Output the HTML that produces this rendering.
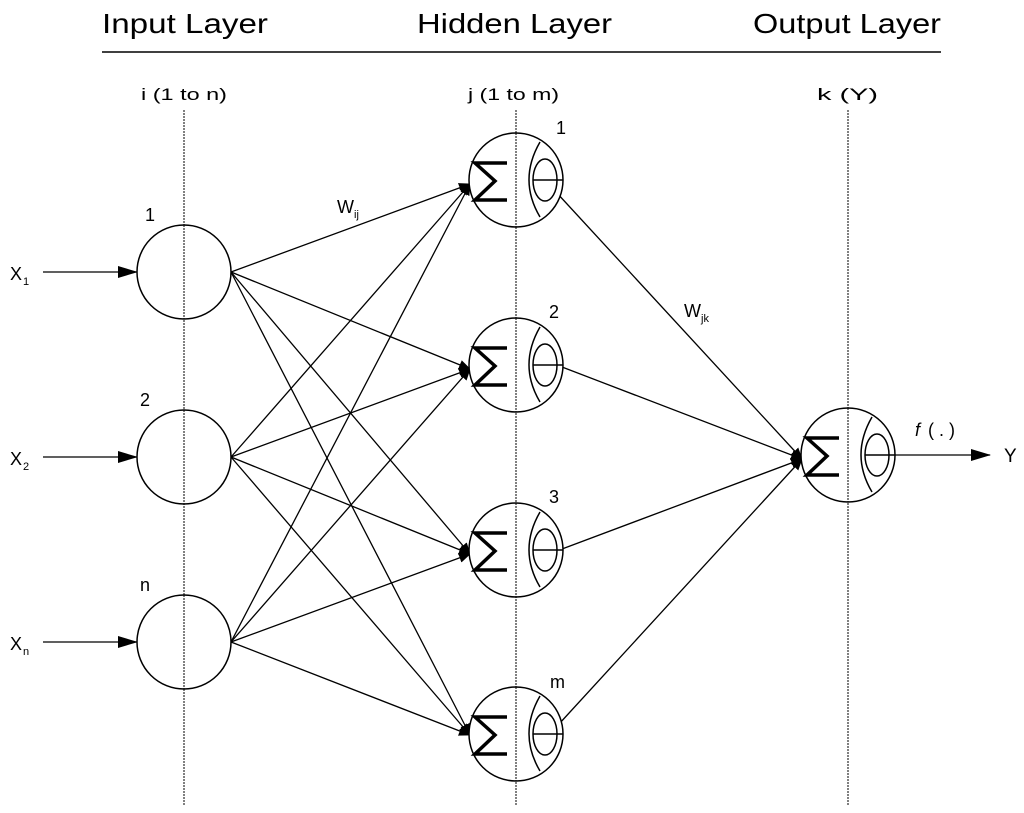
<!DOCTYPE html>
<html><head><meta charset="utf-8"><style>
html,body{margin:0;padding:0;background:#fff}
svg{display:block}
text{font-family:"Liberation Sans",sans-serif;fill:#000}
</style></head><body>
<svg width="1024" height="813" viewBox="0 0 1024 813" xmlns="http://www.w3.org/2000/svg">
<defs>
<marker id="a" markerWidth="12" markerHeight="10" refX="11" refY="5" orient="auto" markerUnits="userSpaceOnUse">
<path d="M0,0 L12,5 L0,10 Z" fill="#000"/>
</marker>
<marker id="b" markerWidth="20" markerHeight="12" refX="19" refY="6" orient="auto" markerUnits="userSpaceOnUse">
<path d="M0,0 L20,6 L0,12 Z" fill="#000"/>
</marker>
<g id="n">
<circle r="47" fill="#fff" stroke="#000" stroke-width="1.5"/>
<polyline points="-9,-17 -41,-17 -21,1 -41,20 -9,20" fill="none" stroke="#000" stroke-width="3.5"/>
<path d="M24,-38 Q2,0 24,37" fill="none" stroke="#000" stroke-width="1.5"/>
<ellipse cx="29" cy="0" rx="12" ry="21" fill="none" stroke="#000" stroke-width="1.5"/>
<line x1="17" y1="0" x2="47" y2="0" stroke="#000" stroke-width="1.5"/>
</g>
</defs>
<text x="102" y="33" font-size="28" textLength="166" lengthAdjust="spacingAndGlyphs">Input Layer</text>
<text x="417" y="33" font-size="28" textLength="195" lengthAdjust="spacingAndGlyphs">Hidden Layer</text>
<text x="753" y="33" font-size="28" textLength="188" lengthAdjust="spacingAndGlyphs">Output Layer</text>
<line x1="102" y1="52" x2="941" y2="52" stroke="#000" stroke-width="1.5"/>
<text x="141" y="100" font-size="17" textLength="86" lengthAdjust="spacingAndGlyphs">i (1 to n)</text>
<text x="468" y="100" font-size="17" textLength="91" lengthAdjust="spacingAndGlyphs">j (1 to m)</text>
<text x="817" y="100" font-size="17" textLength="61" lengthAdjust="spacingAndGlyphs">k (Y)</text>
<g stroke="#000" stroke-width="1" stroke-dasharray="2,1">
<line x1="184" y1="110" x2="184" y2="805"/>
<line x1="516" y1="110" x2="516" y2="805"/>
<line x1="848" y1="110" x2="848" y2="805"/>
</g>
<g stroke="#000" stroke-width="1.3" fill="none">
<line x1="43" y1="272" x2="137" y2="272" marker-end="url(#b)"/>
<line x1="43" y1="457" x2="137" y2="457" marker-end="url(#b)"/>
<line x1="43" y1="642" x2="137" y2="642" marker-end="url(#b)"/>
<g marker-end="url(#a)">
<line x1="231" y1="272" x2="470" y2="184"/><line x1="231" y1="272" x2="470" y2="369"/><line x1="231" y1="272" x2="470" y2="554"/><line x1="231" y1="272" x2="470" y2="735"/>
<line x1="231" y1="457" x2="470" y2="184"/><line x1="231" y1="457" x2="470" y2="369"/><line x1="231" y1="457" x2="470" y2="554"/><line x1="231" y1="457" x2="470" y2="735"/>
<line x1="231" y1="642" x2="470" y2="184"/><line x1="231" y1="642" x2="470" y2="369"/><line x1="231" y1="642" x2="470" y2="554"/><line x1="231" y1="642" x2="470" y2="735"/>
<line x1="556" y1="192" x2="802" y2="459"/><line x1="562" y1="367" x2="802" y2="459"/><line x1="562" y1="549" x2="802" y2="459"/><line x1="559" y1="724" x2="802" y2="459"/>
</g>
<line x1="895" y1="455" x2="990" y2="455" marker-end="url(#b)"/>
</g>
<g fill="#fff" stroke="#000" stroke-width="1.5">
<circle cx="184" cy="272" r="47"/><circle cx="184" cy="457" r="47"/><circle cx="184" cy="642" r="47"/>
</g>
<use href="#n" x="516" y="180"/><use href="#n" x="516" y="365"/><use href="#n" x="516" y="550"/><use href="#n" x="516" y="734"/><use href="#n" x="848" y="455"/>
<g stroke="#000" stroke-width="1" stroke-dasharray="2,1">
<line x1="184" y1="225" x2="184" y2="319"/><line x1="184" y1="410" x2="184" y2="504"/><line x1="184" y1="595" x2="184" y2="689"/>
<line x1="516" y1="133" x2="516" y2="227"/><line x1="516" y1="318" x2="516" y2="412"/><line x1="516" y1="503" x2="516" y2="597"/><line x1="516" y1="687" x2="516" y2="781"/>
<line x1="848" y1="408" x2="848" y2="502"/>
</g>
<g font-size="18">
<text x="145" y="221">1</text><text x="140" y="406">2</text><text x="140" y="591">n</text>
<text x="556" y="134">1</text><text x="549" y="318">2</text><text x="549" y="503">3</text><text x="550" y="688">m</text>
<text x="10" y="280">X</text><text x="23" y="285" font-size="11">1</text>
<text x="10" y="465">X</text><text x="23" y="470" font-size="11">2</text>
<text x="10" y="650">X</text><text x="23" y="655" font-size="11">n</text>
<text x="337" y="213">W</text><text x="354" y="218" font-size="11">ij</text>
<text x="684" y="317">W</text><text x="701" y="322" font-size="11">jk</text>
<text x="915" y="436" font-style="italic">f</text><text x="928" y="436">( . )</text>
<text x="1004" y="462" font-size="19">Y</text>
</g>
</svg>
</body></html>
